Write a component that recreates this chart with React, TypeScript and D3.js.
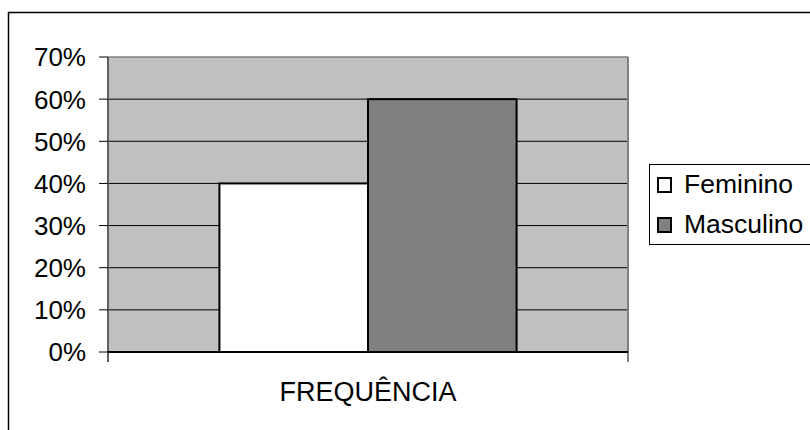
import React from "react";
import * as d3 from "d3";

const categories = ["FREQUÊNCIA"];
const seriesNames = ["Feminino", "Masculino"];
const seriesColors = ["#FFFFFF", "#808080"];
const feminino = [0.4];
const masculino = [0.6];
const yTicks = [0, 0.1, 0.2, 0.3, 0.4, 0.5, 0.6, 0.7];

const W = 810;
const H = 430;
const plot = { left: 108, right: 628, top: 57, bottom: 352 };
const FONT = "'Liberation Sans', Arial, sans-serif";

export default function App() {
  const y = d3.scaleLinear().domain([0, 0.7]).range([plot.bottom, plot.top]);
  const x = d3.scaleBand<string>().domain(categories).range([plot.left, plot.right]).paddingInner(0).paddingOuter(0);
  const bw = x.bandwidth();
  // Excel-style gap width 150%: bars occupy 2/(2+1.5) of band
  const barW = bw / 3.5;
  const sub = d3
    .scaleBand<string>()
    .domain(seriesNames)
    .range([0, barW * 2]);
  const values = [feminino, masculino];
  const fmt = d3.format(".0%");

  return (
    <svg width={W} height={H} style={{ position: "absolute", left: 0, top: 0, background: "#fff" }}>
      <rect x={8.5} y={12.5} width={W + 20} height={H + 20} fill="#fff" stroke="#000" strokeWidth={1.5} />
      <rect x={plot.left} y={plot.top} width={plot.right - plot.left} height={plot.bottom - plot.top} fill="#C0C0C0" />
      {yTicks.slice(1, -1).map((t) => (
        <line key={t} x1={plot.left} x2={plot.right} y1={y(t)} y2={y(t)} stroke="#000" strokeWidth={1} />
      ))}
      {/* plot border */}
      <line x1={plot.left} x2={plot.right} y1={plot.top} y2={plot.top} stroke="#808080" strokeWidth={1.5} />
      <line x1={plot.right} x2={plot.right} y1={plot.top} y2={plot.bottom} stroke="#808080" strokeWidth={2} />
      {categories.map((c, ci) =>
        seriesNames.map((s, si) => {
          const x0 = (x(c) as number) + (bw - barW * 2) / 2 + (sub(s) as number);
          const v = values[si][ci];
          return (
            <rect
              key={c + s}
              x={x0}
              y={y(v)}
              width={sub.bandwidth()}
              height={y(0) - y(v)}
              fill={seriesColors[si]}
              stroke="#000"
              strokeWidth={2}
            />
          );
        })
      )}
      {/* y axis */}
      <line x1={plot.left} x2={plot.left} y1={plot.top} y2={plot.bottom + 10} stroke="#606060" strokeWidth={2} />
      {yTicks.map((t) => (
        <g key={t}>
          <line x1={plot.left - 9} x2={plot.left} y1={y(t)} y2={y(t)} stroke="#000" strokeWidth={1} />
          <text x={86} y={y(t)} dy="0.36em" textAnchor="end" fontFamily={FONT} fontSize={26} fill="#000">
            {fmt(t)}
          </text>
        </g>
      ))}
      {/* x axis */}
      <line x1={plot.left} x2={plot.right} y1={plot.bottom} y2={plot.bottom} stroke="#000" strokeWidth={2} />
      <line x1={plot.right} x2={plot.right} y1={plot.bottom} y2={plot.bottom + 10} stroke="#000" strokeWidth={1} />
      {categories.map((c) => (
        <text key={c} x={(x(c) as number) + bw / 2} y={401} textAnchor="middle" fontFamily={FONT} fontSize={27} fill="#000">
          {c}
        </text>
      ))}
      {/* legend */}
      <rect x={649.5} y={164.5} width={170} height={80} fill="#fff" stroke="#000" strokeWidth={1} />
      {seriesNames.map((s, i) => (
        <g key={s}>
          <rect x={658} y={178 + i * 40} width={13} height={14} fill={seriesColors[i]} stroke="#000" strokeWidth={2} />
          <text x={684} y={193 + i * 40} fontFamily={FONT} fontSize={26.5} fill="#000">
            {s}
          </text>
        </g>
      ))}
    </svg>
  );
}
